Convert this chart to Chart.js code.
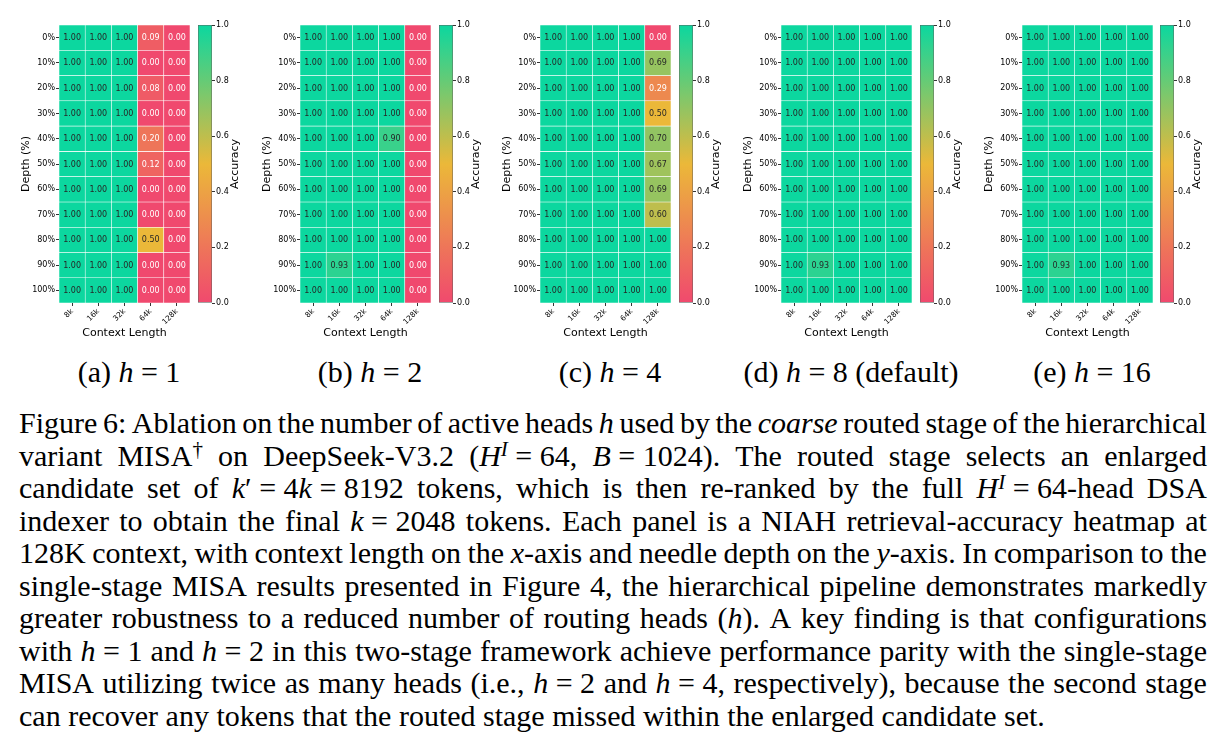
<!DOCTYPE html>
<html>
<head>
<meta charset="utf-8">
<script src="https://cdn.jsdelivr.net/npm/chart.js@4.4.1/dist/chart.umd.min.js"></script>
<style>
  html, body { margin:0; padding:0; background:#fff; }
  body { width:1224px; height:751px; position:relative; overflow:hidden; }
  canvas { position:absolute; top:0; }
  .sub { position:absolute; top:356px; width:260px; text-align:center; font-family:"Liberation Serif", serif; font-size:30px; line-height:32.5px; color:#000; white-space:nowrap; }
  #caption { position:absolute; left:19px; top:407px; width:1188px; font-family:"Liberation Serif", serif; font-size:30px; line-height:32.5px; color:#000; }
  #caption .ln { display:flex; justify-content:space-between; white-space:nowrap; height:32.5px; }
  #caption .ln.last { justify-content:flex-start; }
  #caption .ln.last span { margin-right:0.25em; }
  sup { font-size:0.7em; line-height:0; vertical-align:baseline; position:relative; top:-0.45em; }
  i { font-style:italic; }
</style>
</head>
<body>
<div id="caption"></div>
<script>
// ---------------- DATA ----------------
const contextLabels = ['8k', '16k', '32k', '64k', '128k'];
const depthLabels = ['0%', '10%', '20%', '30%', '40%', '50%', '60%', '70%', '80%', '90%', '100%'];
const colorbarRange = [0.0, 1.0];
const colorbarTicks = [0.0, 0.2, 0.4, 0.6, 0.8, 1.0];
const panelCaptions = ['(a) <i>h</i> = 1', '(b) <i>h</i> = 2', '(c) <i>h</i> = 4', '(d) <i>h</i> = 8 (default)', '(e) <i>h</i> = 16'];
const captionLines = [
  'Figure 6: Ablation on the number of active heads <i>h</i> used by the <i>coarse</i> routed stage of the hierarchical',
  'variant MISA<sup>†</sup> on DeepSeek-V3.2 (<i>H<sup>I</sup></i>&nbsp;=&nbsp;64, <i>B</i>&nbsp;=&nbsp;1024). The routed stage selects an enlarged',
  'candidate set of <i>k</i>′&nbsp;=&nbsp;4<i>k</i>&nbsp;=&nbsp;8192 tokens, which is then re-ranked by the full <i>H<sup>I</sup></i>&nbsp;=&nbsp;64-head DSA',
  'indexer to obtain the final <i>k</i>&nbsp;=&nbsp;2048 tokens. Each panel is a NIAH retrieval-accuracy heatmap at',
  '128K context, with context length on the <i>x</i>-axis and needle depth on the <i>y</i>-axis. In comparison to the',
  'single-stage MISA results presented in Figure 4, the hierarchical pipeline demonstrates markedly',
  'greater robustness to a reduced number of routing heads (<i>h</i>). A key finding is that configurations',
  'with <i>h</i>&nbsp;=&nbsp;1 and <i>h</i>&nbsp;=&nbsp;2 in this two-stage framework achieve performance parity with the single-stage',
  'MISA utilizing twice as many heads (i.e., <i>h</i>&nbsp;=&nbsp;2 and <i>h</i>&nbsp;=&nbsp;4, respectively), because the second stage',
  'can recover any tokens that the routed stage missed within the enlarged candidate set.'
];

// rows = depth (0%..100%), columns = context length (8k..128k)
const accH1 = [
  [1.00, 1.00, 1.00, 0.09, 0.00],
  [1.00, 1.00, 1.00, 0.00, 0.00],
  [1.00, 1.00, 1.00, 0.08, 0.00],
  [1.00, 1.00, 1.00, 0.00, 0.00],
  [1.00, 1.00, 1.00, 0.20, 0.00],
  [1.00, 1.00, 1.00, 0.12, 0.00],
  [1.00, 1.00, 1.00, 0.00, 0.00],
  [1.00, 1.00, 1.00, 0.00, 0.00],
  [1.00, 1.00, 1.00, 0.50, 0.00],
  [1.00, 1.00, 1.00, 0.00, 0.00],
  [1.00, 1.00, 1.00, 0.00, 0.00]
];
const accH2 = [
  [1.00, 1.00, 1.00, 1.00, 0.00],
  [1.00, 1.00, 1.00, 1.00, 0.00],
  [1.00, 1.00, 1.00, 1.00, 0.00],
  [1.00, 1.00, 1.00, 1.00, 0.00],
  [1.00, 1.00, 1.00, 0.90, 0.00],
  [1.00, 1.00, 1.00, 1.00, 0.00],
  [1.00, 1.00, 1.00, 1.00, 0.00],
  [1.00, 1.00, 1.00, 1.00, 0.00],
  [1.00, 1.00, 1.00, 1.00, 0.00],
  [1.00, 0.93, 1.00, 1.00, 0.00],
  [1.00, 1.00, 1.00, 1.00, 0.00]
];
const accH4 = [
  [1.00, 1.00, 1.00, 1.00, 0.00],
  [1.00, 1.00, 1.00, 1.00, 0.69],
  [1.00, 1.00, 1.00, 1.00, 0.29],
  [1.00, 1.00, 1.00, 1.00, 0.50],
  [1.00, 1.00, 1.00, 1.00, 0.70],
  [1.00, 1.00, 1.00, 1.00, 0.67],
  [1.00, 1.00, 1.00, 1.00, 0.69],
  [1.00, 1.00, 1.00, 1.00, 0.60],
  [1.00, 1.00, 1.00, 1.00, 1.00],
  [1.00, 1.00, 1.00, 1.00, 1.00],
  [1.00, 1.00, 1.00, 1.00, 1.00]
];
const accH8 = [
  [1.00, 1.00, 1.00, 1.00, 1.00],
  [1.00, 1.00, 1.00, 1.00, 1.00],
  [1.00, 1.00, 1.00, 1.00, 1.00],
  [1.00, 1.00, 1.00, 1.00, 1.00],
  [1.00, 1.00, 1.00, 1.00, 1.00],
  [1.00, 1.00, 1.00, 1.00, 1.00],
  [1.00, 1.00, 1.00, 1.00, 1.00],
  [1.00, 1.00, 1.00, 1.00, 1.00],
  [1.00, 1.00, 1.00, 1.00, 1.00],
  [1.00, 0.93, 1.00, 1.00, 1.00],
  [1.00, 1.00, 1.00, 1.00, 1.00]
];
const accH16 = [
  [1.00, 1.00, 1.00, 1.00, 1.00],
  [1.00, 1.00, 1.00, 1.00, 1.00],
  [1.00, 1.00, 1.00, 1.00, 1.00],
  [1.00, 1.00, 1.00, 1.00, 1.00],
  [1.00, 1.00, 1.00, 1.00, 1.00],
  [1.00, 1.00, 1.00, 1.00, 1.00],
  [1.00, 1.00, 1.00, 1.00, 1.00],
  [1.00, 1.00, 1.00, 1.00, 1.00],
  [1.00, 1.00, 1.00, 1.00, 1.00],
  [1.00, 0.93, 1.00, 1.00, 1.00],
  [1.00, 1.00, 1.00, 1.00, 1.00]
];
const panels = [accH1, accH2, accH4, accH8, accH16];

// ---------------- CAPTION ----------------
const capEl = document.getElementById('caption');
captionLines.forEach((line, k) => {
  const d = document.createElement('div');
  d.className = 'ln' + (k === captionLines.length - 1 ? ' last' : '');
  d.innerHTML = line.split(' ').map(w => '<span>' + w + '</span>').join('');
  capEl.appendChild(d);
});

// ---------------- STYLE ----------------
const FONT = 'DejaVu Sans';
const cmapStops = [[0xF0, 0x49, 0x6E], [0xEB, 0xB8, 0x39], [0x0C, 0xD7, 0x9F]];
function cmapRGB(v) {
  const t = Math.max(0, Math.min(1, (v - colorbarRange[0]) / (colorbarRange[1] - colorbarRange[0])));
  const seg = t <= 0.5 ? 0 : 1;
  const f = seg === 0 ? t / 0.5 : (t - 0.5) / 0.5;
  const a = cmapStops[seg], b = cmapStops[seg + 1];
  return [0, 1, 2].map(k => Math.round(a[k] + (b[k] - a[k]) * f));
}
function cmap(v) { const c = cmapRGB(v); return `rgb(${c[0]},${c[1]},${c[2]})`; }
function textColor(v) {
  const c = cmapRGB(v).map(x => x / 255).map(x => x <= 0.03928 ? x / 12.92 : Math.pow((x + 0.055) / 1.055, 2.4));
  const lum = 0.2126 * c[0] + 0.7152 * c[1] + 0.0722 * c[2];
  return lum > 0.408 ? '#262626' : '#ffffff';
}

const cellLabels = {
  id: 'cellLabels',
  afterDatasetsDraw(chart) {
    const ctx = chart.ctx;
    ctx.save();
    ctx.font = `8px "${FONT}"`;
    ctx.textAlign = 'center';
    ctx.textBaseline = 'middle';
    chart.data.datasets.forEach((ds, r) => {
      const meta = chart.getDatasetMeta(r);
      meta.data.forEach((el, c) => {
        const v = ds.acc[c];
        const p = el.getCenterPoint();
        ctx.fillStyle = textColor(v);
        ctx.fillText(v.toFixed(2), p.x, p.y + 0.5);
      });
    });
    ctx.restore();
  }
};

const cbTitle = {
  id: 'cbTitle',
  afterDraw(chart) {
    const ctx = chart.ctx, a = chart.chartArea;
    ctx.save();
    ctx.font = `11px "${FONT}"`;
    ctx.fillStyle = '#000';
    ctx.textAlign = 'center';
    ctx.textBaseline = 'middle';
    ctx.translate(a.right + 23, (a.top + a.bottom) / 2);
    ctx.rotate(-Math.PI / 2);
    ctx.fillText('Accuracy', 0, 0);
    ctx.restore();
  }
};

const H = 345, PLOT_TOP = 25, PLOT_BOTTOM = 303;
const HM_W = 131, YAXIS_W = 59, HM_CANVAS_W = 200;
const CB_W = 14, CB_PAD = 8, CB_CANVAS_W = 70;

panels.forEach((acc, i) => {
  // heatmap
  const hmLeft = Math.round(59 + 240.7 * i);
  const cv = document.createElement('canvas');
  cv.width = HM_CANVAS_W; cv.height = H;
  cv.style.left = (hmLeft - YAXIS_W) + 'px';
  cv.style.width = HM_CANVAS_W + 'px'; cv.style.height = H + 'px';
  document.body.appendChild(cv);
  new Chart(cv, {
    type: 'bar',
    data: {
      labels: contextLabels,
      datasets: depthLabels.map((d, r) => ({
        label: d,
        acc: acc[r],
        data: acc[r].map(() => 1),
        backgroundColor: acc[r].map(cmap),
        borderColor: 'rgba(255,255,255,0.9)',
        borderWidth: 0.6,
        borderSkipped: false,
        barPercentage: 1,
        categoryPercentage: 1
      }))
    },
    options: {
      responsive: false, animation: false, devicePixelRatio: 1,
      layout: { padding: { left: 0, top: PLOT_TOP, right: HM_CANVAS_W - YAXIS_W - HM_W, bottom: 0 } },
      plugins: { legend: { display: false }, tooltip: { enabled: false } },
      scales: {
        x: {
          stacked: true, offset: true,
          grid: { offset: false, drawOnChartArea: false, drawTicks: true, tickLength: 3, tickColor: '#000', tickWidth: 0.8 },
          border: { display: false },
          ticks: { minRotation: 45, maxRotation: 45, autoSkip: false, padding: 1, color: '#000', font: { family: FONT, size: 7.5 } },
          title: { display: true, text: 'Context Length', color: '#000', font: { family: FONT, size: 11 }, padding: { top: 0, bottom: 5 } },
          afterFit: s => { s.height = H - PLOT_BOTTOM; }
        },
        y: {
          type: 'linear', stacked: true, reverse: true, min: 0, max: depthLabels.length,
          afterBuildTicks: s => { s.ticks = depthLabels.map((_, k) => ({ value: k + 0.5 })); },
          ticks: { autoSkip: false, padding: 1, color: '#000', font: { family: FONT, size: 8 }, callback: v => depthLabels[Math.floor(v)] },
          grid: { drawOnChartArea: false, drawTicks: true, tickLength: 3, tickColor: '#000', tickWidth: 0.8 },
          border: { display: false },
          title: { display: true, text: 'Depth (%)', color: '#000', font: { family: FONT, size: 11 }, padding: { top: 20, bottom: 0 } },
          afterFit: s => { s.width = YAXIS_W; }
        }
      }
    },
    plugins: [cellLabels]
  });

  // colorbar
  const cbLeft = Math.round(198 + 240.5 * i);
  const cb = document.createElement('canvas');
  cb.width = CB_CANVAS_W; cb.height = H;
  cb.style.left = (cbLeft - CB_PAD) + 'px';
  cb.style.width = CB_CANVAS_W + 'px'; cb.style.height = H + 'px';
  document.body.appendChild(cb);
  new Chart(cb, {
    type: 'bar',
    data: {
      labels: ['Accuracy'],
      datasets: [{
        data: [colorbarRange.slice()],
        backgroundColor: ctx => {
          const ch = ctx.chart, ys = ch.scales.y;
          if (!ys || !ch.chartArea) return cmap(colorbarRange[1]);
          const y0 = ys.getPixelForValue(colorbarRange[0]), y1 = ys.getPixelForValue(colorbarRange[1]);
          if (!isFinite(y0) || !isFinite(y1) || y0 === y1) return cmap(colorbarRange[1]);
          const g = ch.ctx.createLinearGradient(0, y0, 0, y1);
          for (let k = 0; k <= 20; k++) { const t = k / 20; g.addColorStop(t, cmap(colorbarRange[0] + t * (colorbarRange[1] - colorbarRange[0]))); }
          return g;
        },
        borderColor: 'rgba(40,40,40,0.75)',
        borderWidth: 0.8,
        borderSkipped: false,
        barPercentage: 1,
        categoryPercentage: 1
      }]
    },
    options: {
      responsive: false, animation: false, devicePixelRatio: 1,
      layout: { padding: { left: CB_PAD, top: PLOT_TOP, right: 0, bottom: H - PLOT_BOTTOM } },
      plugins: { legend: { display: false }, tooltip: { enabled: false } },
      scales: {
        x: { display: false, offset: true },
        y: {
          position: 'right', min: colorbarRange[0], max: colorbarRange[1],
          afterBuildTicks: s => { s.ticks = colorbarTicks.map(v => ({ value: v })); },
          ticks: { autoSkip: false, padding: 1, color: '#000', font: { family: FONT, size: 8 }, callback: v => Number(v).toFixed(1) },
          grid: { drawOnChartArea: false, drawTicks: true, tickLength: 3, tickColor: '#000', tickWidth: 0.8 },
          border: { display: false },
          afterFit: s => { s.width = CB_CANVAS_W - CB_PAD - CB_W; }
        }
      }
    },
    plugins: [cbTitle]
  });

  // sub-caption
  const sc = document.createElement('div');
  sc.className = 'sub';
  sc.innerHTML = panelCaptions[i];
  sc.style.left = Math.round(129 + 240.7 * i - 130) + 'px';
  document.body.appendChild(sc);
});
</script>
</body>
</html>
